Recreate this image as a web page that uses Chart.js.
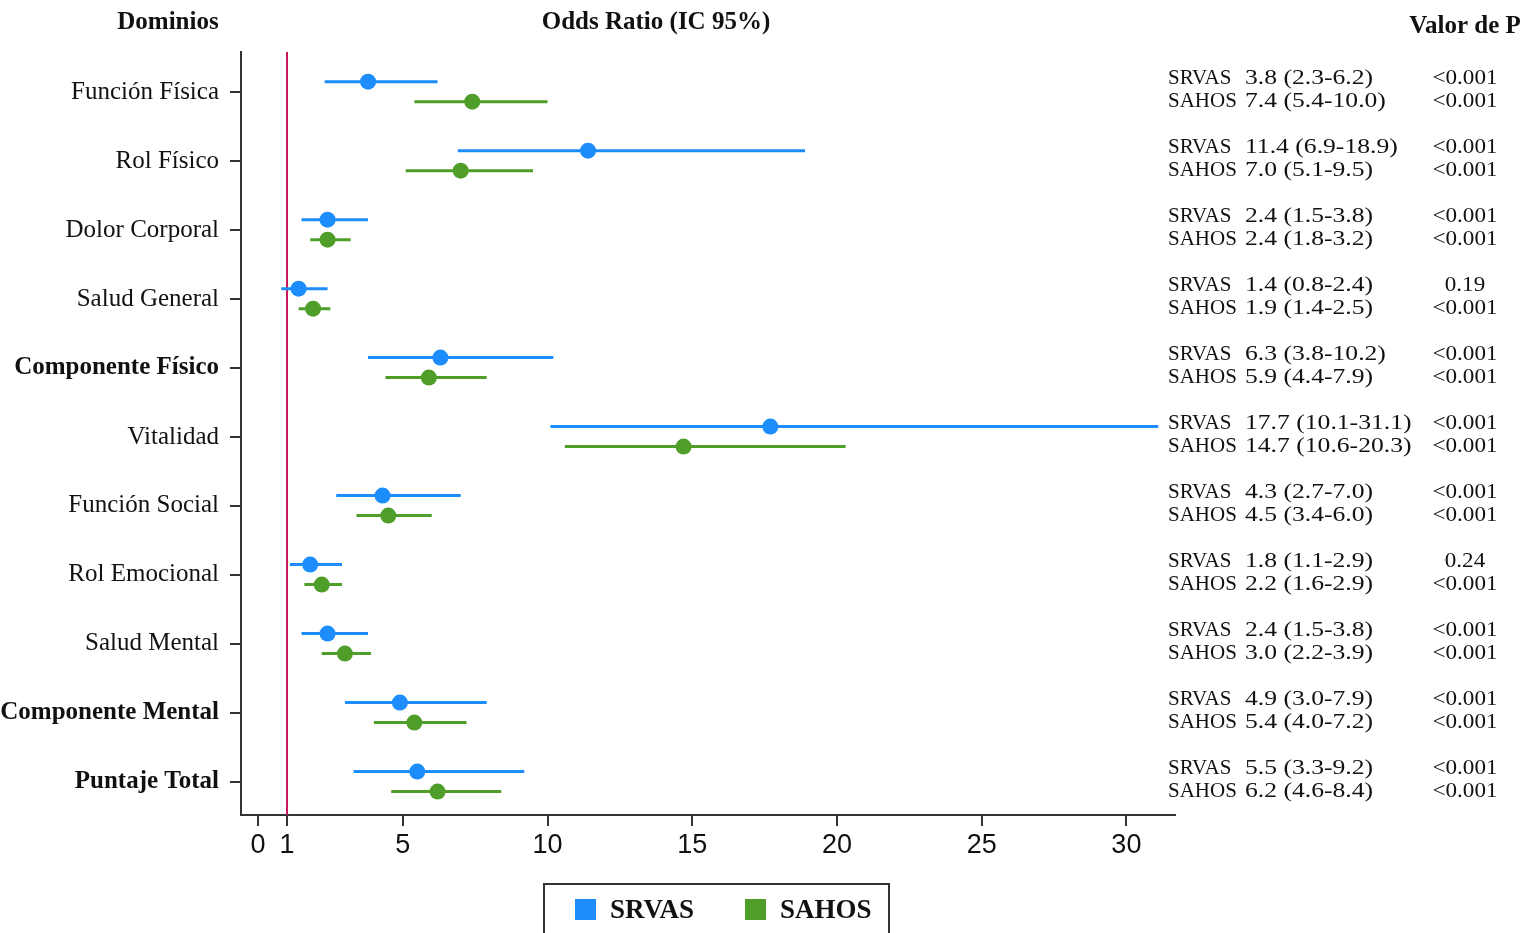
<!DOCTYPE html>
<html>
<head>
<meta charset="utf-8">
<script src="https://cdn.jsdelivr.net/npm/chart.js@4"></script>
<style>
  body { margin: 0; background: #fff; }
  canvas { display: block; }
</style>
</head>
<body>
<canvas id="forest" width="1539" height="933"></canvas>
<script>
// data
const categories = ["Función Física", "Rol Físico", "Dolor Corporal", "Salud General", "Componente Físico",
  "Vitalidad", "Función Social", "Rol Emocional", "Salud Mental", "Componente Mental", "Puntaje Total"];
const boldCategories = ["Componente Físico", "Componente Mental", "Puntaje Total"];
const seriesNames = ["SRVAS", "SAHOS"];

const srvasOR = [3.8, 11.4, 2.4, 1.4, 6.3, 17.7, 4.3, 1.8, 2.4, 4.9, 5.5];
const srvasLow = [2.3, 6.9, 1.5, 0.8, 3.8, 10.1, 2.7, 1.1, 1.5, 3.0, 3.3];
const srvasHigh = [6.2, 18.9, 3.8, 2.4, 10.2, 31.1, 7.0, 2.9, 3.8, 7.9, 9.2];
const srvasP = ["<0.001", "<0.001", "<0.001", "0.19", "<0.001", "<0.001", "<0.001", "0.24", "<0.001", "<0.001", "<0.001"];

const sahosOR = [7.4, 7.0, 2.4, 1.9, 5.9, 14.7, 4.5, 2.2, 3.0, 5.4, 6.2];
const sahosLow = [5.4, 5.1, 1.8, 1.4, 4.4, 10.6, 3.4, 1.6, 2.2, 4.0, 4.6];
const sahosHigh = [10.0, 9.5, 3.2, 2.5, 7.9, 20.3, 6.0, 2.9, 3.9, 7.2, 8.4];
const sahosP = ["<0.001", "<0.001", "<0.001", "<0.001", "<0.001", "<0.001", "<0.001", "<0.001", "<0.001", "<0.001", "<0.001"];

const xTicks = [0, 1, 5, 10, 15, 20, 25, 30];
const refValue = 1;

const blue = "#1c8dfb";
const green = "#4f9e2a";
const serif = "'Liberation Serif', 'DejaVu Serif', serif";
const sans = "'Liberation Sans', Arial, sans-serif";

// vertical shift of each series inside a row (in row units), and of its text (px)
const series = [
  { name: seriesNames[0], color: blue, or: srvasOR, lo: srvasLow, hi: srvasHigh, p: srvasP, shift: -0.15, textDy: -3 },
  { name: seriesNames[1], color: green, or: sahosOR, lo: sahosLow, hi: sahosHigh, p: sahosP, shift: 0.14, textDy: 0 },
];

const fmt = (v) => v.toFixed(1);

// text in the source figure is a bit wider than tall
function stretchText(ctx, text, x, y, sx) {
  ctx.save();
  ctx.translate(x, y);
  ctx.scale(sx, 1);
  ctx.fillText(text, 0, 0);
  ctx.restore();
}

const forestPlugin = {
  id: "forest",
  beforeDatasetsDraw(chart) {
    const { ctx, chartArea, scales: { x, y } } = chart;
    ctx.save();
    // reference line at OR = 1
    const rx = x.getPixelForValue(refValue);
    ctx.strokeStyle = "#c8145c";
    ctx.lineWidth = 2;
    ctx.beginPath();
    ctx.moveTo(rx, chartArea.top);
    ctx.lineTo(rx, chartArea.bottom);
    ctx.stroke();
    // confidence intervals
    ctx.lineWidth = 3;
    series.forEach((s) => {
      ctx.strokeStyle = s.color;
      s.or.forEach((v, i) => {
        const py = y.getPixelForValue(i + s.shift);
        ctx.beginPath();
        ctx.moveTo(x.getPixelForValue(s.lo[i]), py);
        ctx.lineTo(x.getPixelForValue(s.hi[i]), py);
        ctx.stroke();
      });
    });
    ctx.restore();
  },
  afterDraw(chart) {
    const { ctx, scales: { y } } = chart;
    ctx.save();
    ctx.fillStyle = "#111";
    // headers
    ctx.font = "bold 25px " + serif;
    ctx.textBaseline = "middle";
    ctx.textAlign = "center";
    ctx.fillText("Dominios", 168, 23);
    ctx.fillText("Odds Ratio (IC 95%)", 656, 23);
    ctx.fillText("Valor de P", 1465, 27);
    // right hand text
    ctx.font = "21px " + serif;
    series.forEach((s) => {
      s.or.forEach((v, i) => {
        const py = y.getPixelForValue(i + s.shift) + s.textDy;
        ctx.textAlign = "left";
        stretchText(ctx, s.name, 1168, py, 1.0);
        stretchText(ctx, fmt(v) + " (" + fmt(s.lo[i]) + "-" + fmt(s.hi[i]) + ")", 1245, py, 1.22);
        ctx.textAlign = "center";
        stretchText(ctx, s.p[i], 1465, py, 1.1);
      });
    });
    // legend
    ctx.strokeStyle = "#333";
    ctx.lineWidth = 2;
    ctx.strokeRect(544, 884, 345, 60);
    ctx.font = "bold 27px " + serif;
    ctx.textAlign = "left";
    const legendX = [575, 745];
    series.forEach((s, k) => {
      ctx.fillStyle = s.color;
      ctx.fillRect(legendX[k], 899, 21, 21);
      ctx.fillStyle = "#111";
      ctx.fillText(s.name, legendX[k] + 35, 911);
    });
    ctx.restore();
  },
};

new Chart(document.getElementById("forest"), {
  type: "scatter",
  data: {
    datasets: series.map((s) => ({
      label: s.name,
      data: s.or.map((v, i) => ({ x: v, y: i + s.shift })),
      backgroundColor: s.color,
      borderColor: s.color,
      pointRadius: 8,
      pointHoverRadius: 8,
      borderWidth: 0,
    })),
  },
  options: {
    responsive: false,
    animation: false,
    layout: { padding: { left: 0, right: 364, top: 52, bottom: 0 } },
    plugins: { legend: { display: false }, tooltip: { enabled: false } },
    scales: {
      x: {
        type: "linear",
        min: -0.59,
        max: 31.68,
        afterBuildTicks: (scale) => { scale.ticks = xTicks.map((v) => ({ value: v })); },
        afterFit: (scale) => { scale.height = 118; },
        grid: { drawOnChartArea: false, tickLength: 11, color: "#333", lineWidth: 2 },
        border: { color: "#333", width: 2 },
        ticks: { color: "#111", font: { family: sans, size: 27 }, padding: 3, maxRotation: 0, autoSkip: false },
      },
      y: {
        type: "linear",
        reverse: true,
        min: -0.58,
        max: 10.48,
        afterBuildTicks: (scale) => { scale.ticks = categories.map((c, i) => ({ value: i })); },
        afterFit: (scale) => { scale.width = 241; },
        grid: { drawOnChartArea: false, tickLength: 11, color: "#333", lineWidth: 2 },
        border: { color: "#333", width: 2 },
        ticks: {
          color: "#111",
          padding: 11,
          autoSkip: false,
          callback: (v) => categories[v],
          font: (c) => ({
            family: serif,
            size: 25,
            weight: boldCategories.includes(categories[c.tick && c.tick.value]) ? "bold" : "normal",
          }),
        },
      },
    },
  },
  plugins: [forestPlugin],
});
</script>
</body>
</html>
